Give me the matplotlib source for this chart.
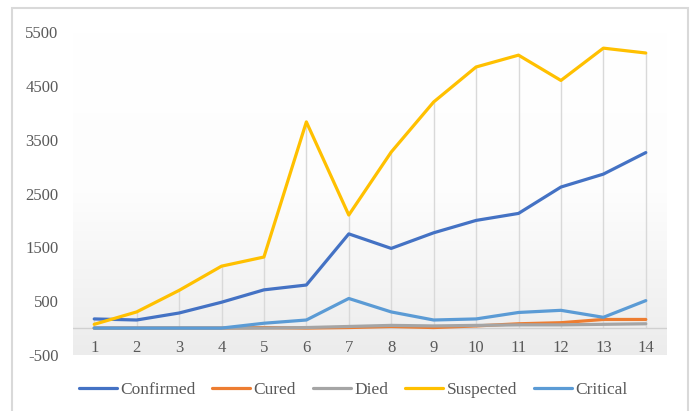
import matplotlib
matplotlib.use("Agg")
import matplotlib.pyplot as plt
import numpy as np
from matplotlib.patches import Rectangle
from matplotlib.colors import LinearSegmentedColormap

days = list(range(1, 15))
confirmed = [170, 150, 280, 480, 710, 800, 1750, 1480, 1770, 2000, 2130, 2620, 2860, 3260]
cured = [0, 0, 0, 0, 10, 0, 10, 30, 10, 40, 80, 100, 160, 160]
died = [0, 0, 0, 0, 0, 10, 30, 50, 40, 50, 60, 60, 70, 80]
suspected = [70, 300, 700, 1150, 1320, 3830, 2100, 3270, 4200, 4850, 5070, 4600, 5200, 5110]
critical = [0, 0, 0, 0, 90, 150, 550, 300, 150, 170, 290, 330, 200, 510]

series = [
    ("Confirmed", confirmed, "#4472C4"),
    ("Cured", cured, "#ED7D31"),
    ("Died", died, "#A5A5A5"),
    ("Suspected", suspected, "#FFC000"),
    ("Critical", critical, "#5B9BD5"),
]
yticks = [-500, 500, 1500, 2500, 3500, 4500, 5500]

plt.rcParams['font.family'] = ['Liberation Serif', 'DejaVu Serif']
FS = 12

fig = plt.figure(figsize=(6.91, 4.11), dpi=100)
ax = fig.add_axes([73/691, 1 - 355/411, (667-73)/691, (355-32)/411])

# outer frame
fig.patches.append(Rectangle((12/691, -0.02), (688-12)/691, 1 - 8/411 + 0.02,
                             transform=fig.transFigure, fill=False,
                             edgecolor="#d9d9d9", linewidth=1.5))

ax.set_xlim(0.5, 14.5)
ax.set_ylim(-500, 5500)

# gradient background
grad = np.linspace(0, 1, 256).reshape(-1, 1)
cmap = LinearSegmentedColormap.from_list("g", ["#ececec", "#fdfdfd", "#ffffff"])
ax.imshow(grad, extent=[0.5, 14.5, -500, 5500], origin="lower", aspect="auto",
          cmap=cmap, zorder=0)

# drop lines
allv = np.array([confirmed, cured, died, suspected, critical])
mx = allv.max(axis=0)
ax.vlines(days, 0, mx, color="#d9d9d9", linewidth=1.0, zorder=1)
ax.axhline(0, color="#d0d0d0", linewidth=1.0, zorder=1)

for i, (name, vals, col) in enumerate(series):
    ax.plot(days, vals, color=col, linewidth=2.3, label=name, zorder=3 + i,
            solid_capstyle="round")

for s in ax.spines.values():
    s.set_visible(False)

ax.set_yticks(yticks)
ax.set_yticklabels([str(v) for v in yticks])
ax.set_xticks(days)
ax.set_xticklabels([])
for d in days:
    ax.text(d, -370, str(d), ha="center", va="center", fontsize=FS, color="#595959")
ax.tick_params(axis="y", length=0, pad=10.5, labelsize=FS, labelcolor="#595959")
ax.tick_params(axis="x", length=0)

leg = fig.legend(loc="center", bbox_to_anchor=(353/691, 1 - 390/411), ncol=5,
                 frameon=False, fontsize=12.5, handlelength=2.2, handletextpad=0.2,
                 columnspacing=0.95)
for t in leg.get_texts():
    t.set_color("#595959")

fig.savefig("out.png", dpi=100)
